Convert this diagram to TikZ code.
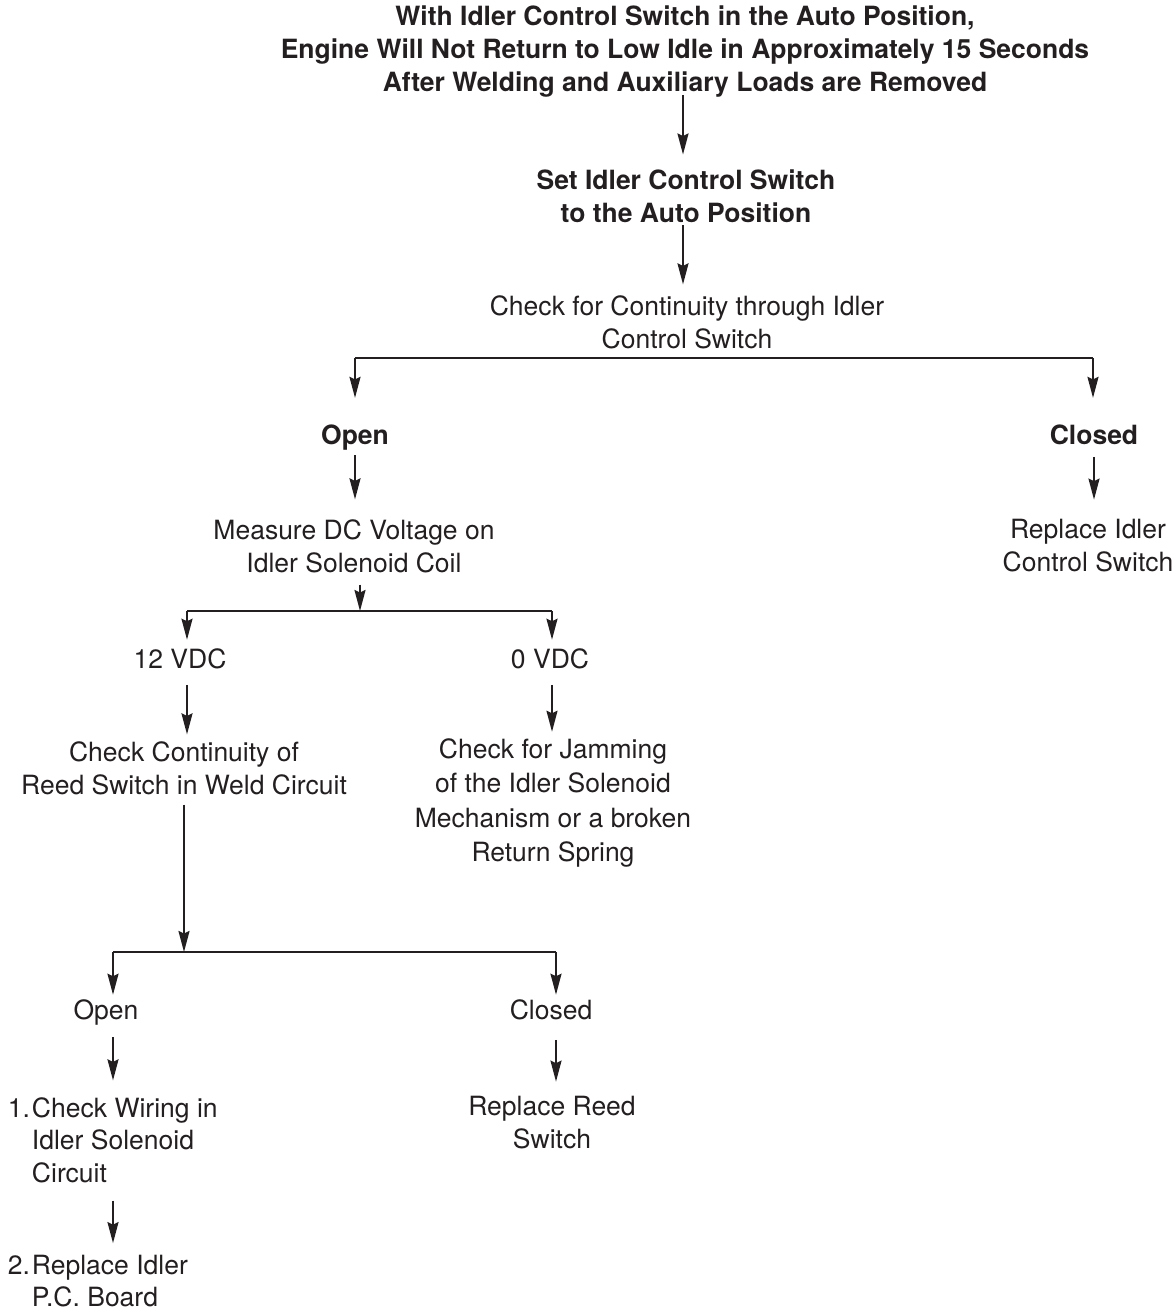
\documentclass[tikz,border=0pt]{standalone}
\usepackage{fontspec}
\setmainfont{TeX Gyre Heros}
\usetikzlibrary{arrows.meta}
\definecolor{ink}{HTML}{231F20}
\newcommand{\numbox}[1]{\makebox[24pt][l]{#1}}
\begin{document}
\begin{tikzpicture}[x=1pt,y=-1pt,
  every node/.style={inner sep=0pt,outer sep=0pt,text=ink,font=\fontsize{26.5}{33}\selectfont},
  txt/.style={align=center},
  btxt/.style={align=center,font=\fontsize{26.5}{33}\selectfont\bfseries},
  conn/.style={draw=ink,line width=1.9pt},
  arr/.style={conn,-{Stealth[length=21pt,width=11pt,inset=2.5pt]}},
  ]
\useasboundingbox (0,0) rectangle (1176,1310);
% nodes
\node[btxt] (title) at (685,52) {With Idler Control Switch in the Auto Position,\\Engine Will Not Return to Low Idle in Approximately 15 Seconds\\After Welding and Auxiliary Loads are Removed};
\node[btxt] (set) at (686,196) {Set Idler Control Switch\\to the Auto Position};
\node[txt] (cont) at (687,322) {Check for Continuity through Idler\\Control Switch};
\node[btxt,anchor=base] (openA) at (355,444.5) {Open};
\node[btxt,anchor=base] (closedA) at (1094,444.5) {Closed};
\node[txt] (meas) at (354,546) {Measure DC Voltage on\\Idler Solenoid Coil};
\node[txt] (repl) at (1088,546) {Replace Idler\\Control Switch};
\node[txt,anchor=base] (v12) at (180,668.5) {12 VDC};
\node[txt,anchor=base] (v0) at (550,668.5) {0 VDC};
\node[txt] (reed) at (184,768) {Check Continuity of\\Reed Switch in Weld Circuit};
\node[txt,font=\fontsize{26.5}{34.3}\selectfont] (jam) at (553,803) {Check for Jamming\\of the Idler Solenoid\\Mechanism or a broken\\Return Spring};
\node[txt,anchor=base] (openB) at (106,1019.5) {Open};
\node[txt,anchor=base] (closedB) at (551,1019.5) {Closed};
\node[align=left,anchor=west,font=\fontsize{26.5}{32.5}\selectfont] (wiring) at (8,1140) {\numbox{1.}Check Wiring in\\\numbox{}Idler Solenoid\\\numbox{}Circuit};
\node[txt] (reedrep) at (552,1123) {Replace Reed\\Switch};
\node[align=left,anchor=west,font=\fontsize{26.5}{32}\selectfont] (board) at (8,1281) {\numbox{2.}Replace Idler\\\numbox{}P.C. Board};
% branch points
\coordinate (a0) at (683,0);
\coordinate (b1l) at (355,358);
\coordinate (b1r) at (1093,358);
\coordinate (b2) at (360,611);
\coordinate (b2l) at (187,611);
\coordinate (b2r) at (552,611);
\coordinate (b3) at (184,952);
\coordinate (b3l) at (113,952);
\coordinate (b3r) at (556,952);
% connectors
\draw[arr,shorten <=-3pt,shorten >=15pt] (title.south -| a0) -- (set.north -| a0);
\draw[arr,shorten <=3pt,shorten >=11pt] (set.south -| a0) -- (cont.north -| a0);
\draw[conn] (b1l) -- (b1r);
\draw[arr,shorten >=27pt] (b1l) -- (b1l |- openA.north);
\draw[arr,shorten >=27pt] (b1r) -- (b1r |- closedA.north);
\draw[arr,shorten <=5pt,shorten >=20pt] (openA.south) -- (openA.south |- meas.north);
\draw[arr,shorten <=12pt,shorten >=20pt] (closedA.south) -- (closedA.south |- repl.north);
\draw[arr,shorten <=12pt] (meas.south -| b2) -- (b2);
\draw[conn] (b2l) -- (b2r);
\draw[arr,shorten >=9pt] (b2l) -- (b2l |- v12.north);
\draw[arr,shorten >=9pt] (b2r) -- (b2r |- v0.north);
\draw[arr,shorten <=16pt,shorten >=7pt] (v12.south -| b2l) -- (b2l |- reed.north);
\draw[arr,shorten <=16pt,shorten >=7pt] (v0.south -| b2r) -- (b2r |- jam.north);
\draw[arr,shorten <=10pt] (reed.south -| b3) -- (b3);
\draw[conn] (b3l) -- (b3r);
\draw[arr,shorten >=5pt] (b3l) -- (b3l |- openB.north);
\draw[arr,shorten >=5pt] (b3r) -- (b3r |- closedB.north);
\draw[arr,shorten <=12pt,shorten >=17pt] (openB.south -| b3l) -- (b3l |- wiring.north);
\draw[arr,shorten <=20pt,shorten >=15pt] (closedB.south -| b3r) -- (b3r |- reedrep.north);
\draw[arr,shorten <=18pt,shorten >=12pt] (wiring.south -| b3l) -- (b3l |- board.north);
\end{tikzpicture}
\end{document}
